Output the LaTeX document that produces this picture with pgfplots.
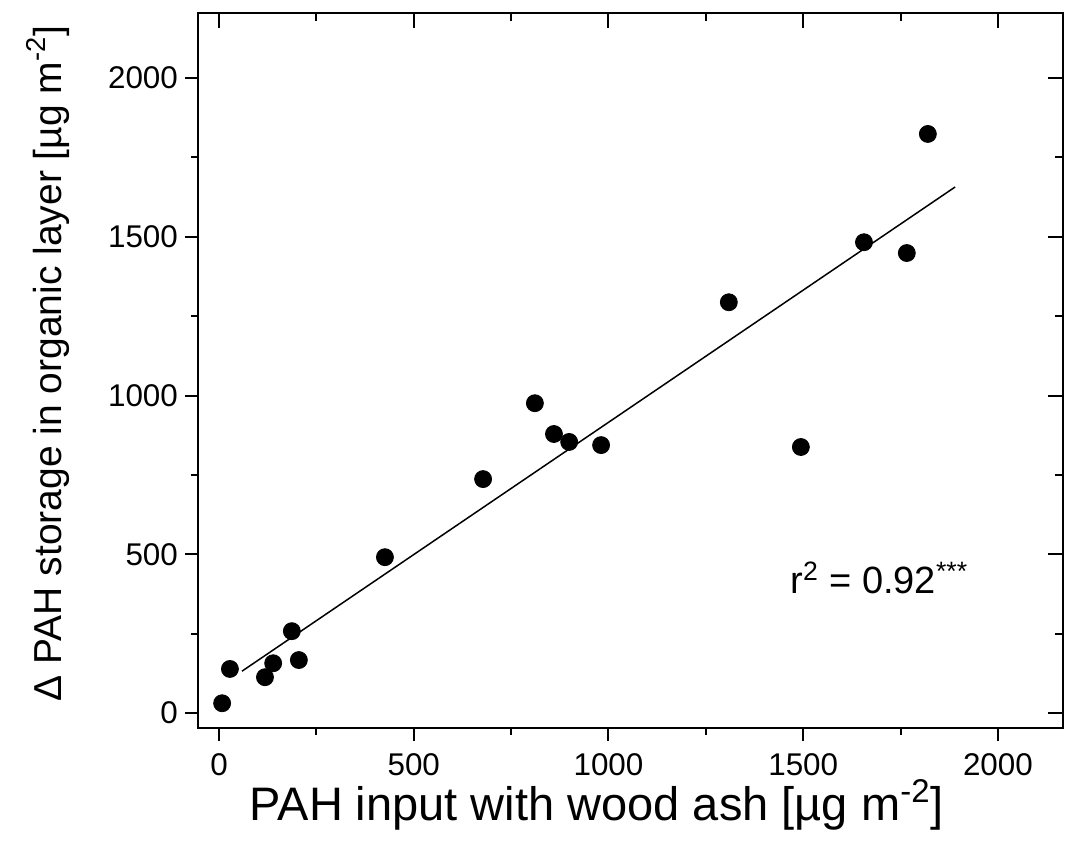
\documentclass[border=0pt]{standalone}
\usepackage{fontspec}
\setmainfont{Liberation Sans}
\usepackage{pgfplots}
\pgfplotsset{compat=1.18}
\begin{document}
\begin{tikzpicture}
\useasboundingbox (-99pt,-62pt) rectangle (434pt,364pt);
\pgfplotsset{
  common/.style={
    at={(0,0)}, anchor=south west,
    scale only axis, width=432.5pt, height=357.5pt,
    xmin=-54, xmax=2167, ymin=-47, ymax=2205,
    xtick={0,500,...,2000}, ytick={0,500,...,2000},
    minor xtick={250,750,1250,1750}, minor ytick={250,750,1250,1750},
    axis line style={line width=1.2pt},
    every tick/.style={black, line width=1pt},
    /pgf/number format/assume math mode=true,
    /pgf/number format/1000 sep={},
  }
}
\begin{axis}[common,
  xtick pos=right, ytick pos=right, tick align=inside,
  major tick length=7.5pt, minor tick length=4pt,
  xticklabels={}, yticklabels={},
]
\end{axis}
\begin{axis}[common,
  xtick pos=left, ytick pos=left, tick align=outside,
  major tick length=6.5pt, minor tick length=3.5pt,
  tick label style={font=\fontsize{15.7}{18}\selectfont},
  xticklabel style={yshift=-3pt},
  xlabel={PAH input with wood ash [µg m\textsuperscript{-2}]},
  ylabel={Δ PAH storage in organic layer [µg m\textsuperscript{-2}]},
  xlabel style={font=\fontsize{23.5}{27}\selectfont, at={(axis description cs:0.461,-0.1077)}, anchor=center},
  ylabel style={font=\fontsize{19.5}{23}\selectfont, at={(axis description cs:-0.1734,0.51)}, anchor=center},
]
\addplot[black, line width=0.75pt] coordinates {(59,132) (1890,1657)};
\addplot[only marks, mark=*, mark size=4.25pt, black] coordinates {
(8,31) (28,139) (118,113) (139,157) (187,258) (205,167) (426,491)
(678,737) (811,976) (860,879) (899,854) (981,844) (1309,1294)
(1494,838) (1656,1483) (1766,1449) (1820,1824)
};
\node[anchor=west, inner sep=0pt, font=\fontsize{19}{23}\selectfont] at (axis cs:1466,425) {r\textsuperscript{2} = 0.92\textsuperscript{***}};
\end{axis}
\end{tikzpicture}
\end{document}
